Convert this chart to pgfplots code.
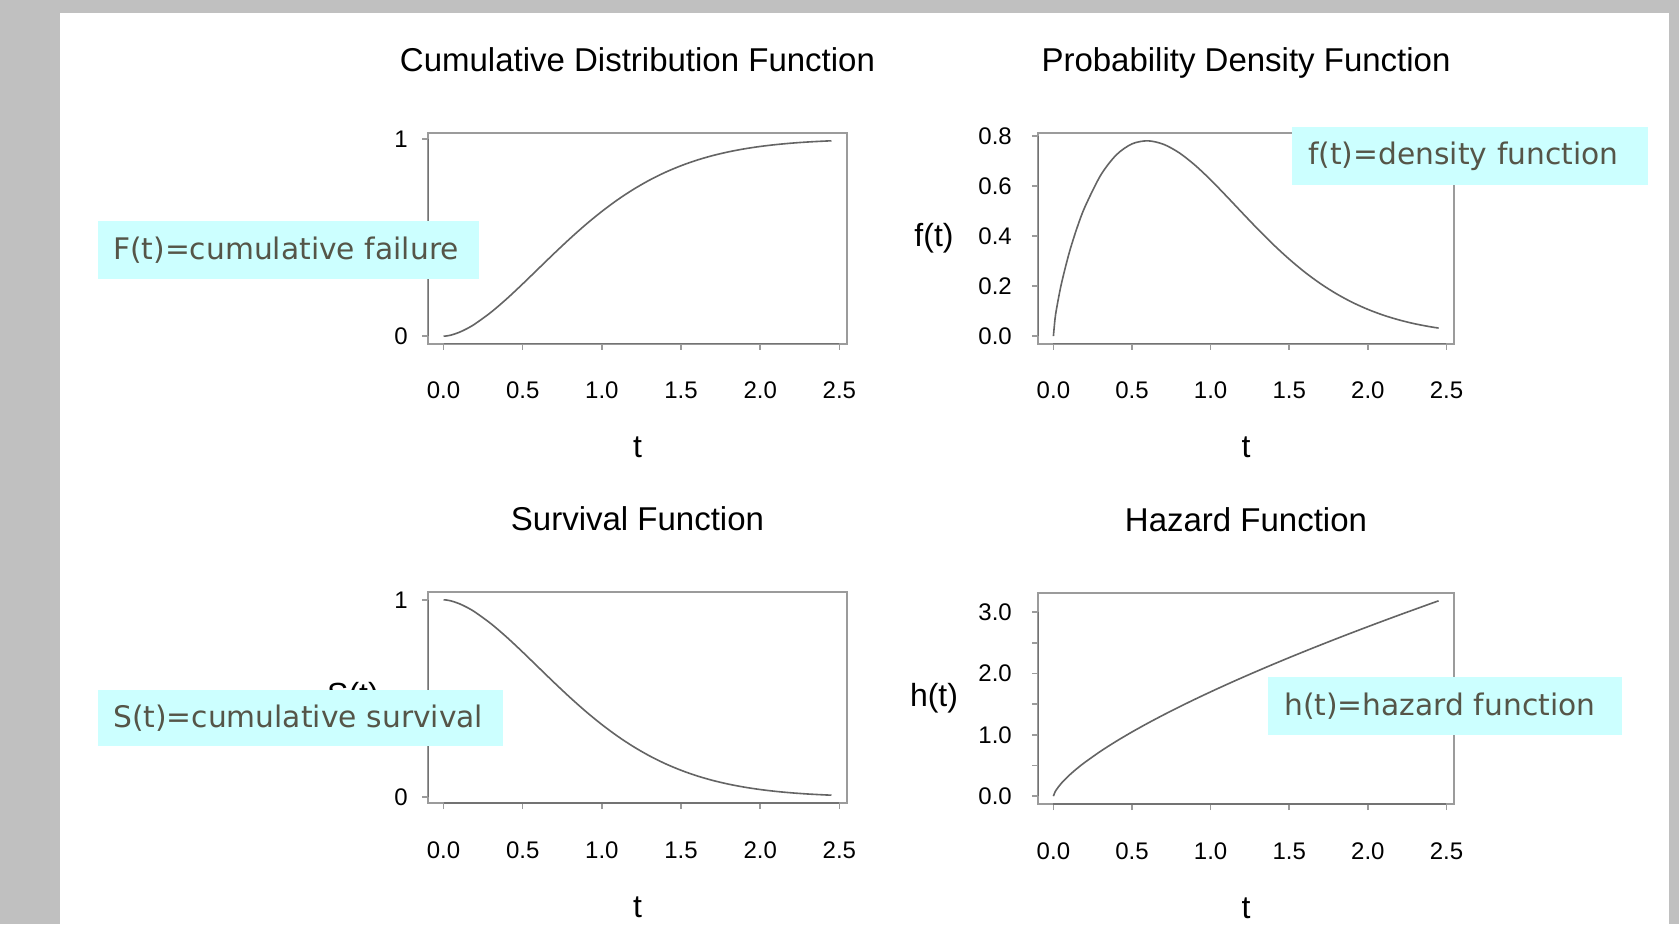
\documentclass[border=0pt]{standalone}
\usepackage{pgfplots}
\pgfplotsset{compat=1.18}
\usepackage{pgfplotstable}
\usepackage{fontspec}
\setmainfont{Liberation Sans}
\newfontfamily\annotfont{DejaVu Sans}

\definecolor{pagegrey}{RGB}{192,192,192}
\definecolor{boxgrey}{RGB}{155,155,155}
\definecolor{axisgrey}{RGB}{115,115,115}
\definecolor{curvegrey}{RGB}{100,100,100}
\definecolor{notefill}{RGB}{204,255,255}
\definecolor{notetext}{RGB}{85,85,72}

% t, F(t), f(t), S(t), h(t)
\pgfplotstableread{
t     F      f      S      h
0     0      0      1      0
0.01  0.0004 0.0677 0.9996 0.0677
0.02  0.0013 0.1098 0.9987 0.1099
0.05  0.0061 0.2075 0.9939 0.2088
0.1   0.0198 0.3325 0.9802 0.3392
0.15  0.0390 0.4329 0.9610 0.4505
0.2   0.0628 0.5164 0.9372 0.5510
0.3   0.1212 0.6432 0.8788 0.7319
0.4   0.1899 0.7252 0.8101 0.8952
0.5   0.2649 0.7693 0.7351 1.0465
0.6   0.3427 0.7815 0.6573 1.1890
0.7   0.4203 0.7677 0.5797 1.3243
0.8   0.4955 0.7336 0.5045 1.4542
0.9   0.5666 0.6844 0.4334 1.5791
1.0   0.6321 0.6254 0.3679 1.7000
1.1   0.6915 0.5606 0.3085 1.8173
1.2   0.7442 0.4941 0.2558 1.9314
1.3   0.7903 0.4284 0.2097 2.0427
1.4   0.8300 0.3658 0.1700 2.1515
1.5   0.8636 0.3080 0.1364 2.2581
1.6   0.8918 0.2556 0.1082 2.3623
1.7   0.9150 0.2095 0.0850 2.4647
1.8   0.9339 0.1696 0.0661 2.5655
1.9   0.9491 0.1356 0.0509 2.6644
2.0   0.9612 0.1072 0.0388 2.7617
2.1   0.9707 0.0837 0.0293 2.8577
2.2   0.9781 0.0647 0.0219 2.9524
2.3   0.9838 0.0493 0.0162 3.0454
2.4   0.9881 0.0373 0.0119 3.1379
2.45  0.9898 0.0325 0.0102 3.1834
}\weib

\pgfplotsset{
  rpanel/.style={
    scale only axis, width=419pt, height=211pt, anchor=south west,
    xmin=-0.098, xmax=2.548,
    axis line style={boxgrey, line width=1.5pt},
    tick style={boxgrey, line width=1.5pt},
    major tick length=6pt, tick align=outside, tick pos=left,
    xtick={0,0.5,1,1.5,2,2.5},
    xticklabels={0.0,0.5,1.0,1.5,2.0,2.5},
    ticklabel style={font=\fontsize{24}{28}\selectfont, inner sep=0pt},
    xticklabel style={anchor=base, yshift=-49pt},
    yticklabel style={anchor=east, xshift=-20pt},
    every axis title/.style={at={(rel axis cs:0.5,1)}, anchor=base,
      yshift=61pt, font=\fontsize{33}{40}\selectfont},
    every axis x label/.style={at={(rel axis cs:0.5,0)}, anchor=base,
      yshift=-114pt, font=\fontsize{32}{38}\selectfont},
    every axis y label/.style={at={(rel axis cs:0,0.5)}, anchor=center,
      font=\fontsize{32}{38}\selectfont},
    xlabel={t},
  },
  rcurve/.style={curvegrey, line width=1.6pt, smooth, no marks},
}
\tikzset{
  note/.style={fill=notefill, anchor=north west, inner ysep=0pt, align=left,
    text=notetext, font=\annotfont\fontsize{29.7}{34}\selectfont},
}

\begin{document}
\begin{tikzpicture}
\path[use as bounding box] (0,0) rectangle (1679pt,924pt);
\fill[pagegrey] (0,0) rectangle (1679pt,924pt);
\fill[white] (60pt,0) rectangle (1669pt,911pt);

% top left
\begin{axis}[rpanel, at={(428pt,580pt)},
  title={Cumulative Distribution Function},
  ymin=-0.0396, ymax=1.0294, ytick={0,1}, yticklabels={0,1},
  yticklabel style={xshift=6pt},
  ylabel={F(t)}, ylabel style={xshift=-75pt}]
\addplot[rcurve] table[x=t, y=F] {\weib};
\draw[axisgrey, line width=1.2pt] ({axis cs:0,0}|-{rel axis cs:0,0}) -- ({axis cs:2.5,0}|-{rel axis cs:0,0});
\draw[axisgrey, line width=1.2pt] ({rel axis cs:0,0}|-{axis cs:0,0}) -- ({rel axis cs:0,0}|-{axis cs:0,1});
\end{axis}

% top right
\begin{axis}[rpanel, at={(1038pt,580pt)}, width=416pt,
  title={Probability Density Function},
  ymin=-0.0313, ymax=0.8128, ytick={0,0.2,0.4,0.6,0.8},
  yticklabels={0.0,0.2,0.4,0.6,0.8},
  ylabel={f(t)}, ylabel style={xshift=-104pt}]
\addplot[rcurve] table[x=t, y=f] {\weib};
\draw[axisgrey, line width=1.2pt] ({axis cs:0,0}|-{rel axis cs:0,0}) -- ({axis cs:2.5,0}|-{rel axis cs:0,0});
\draw[axisgrey, line width=1.2pt] ({rel axis cs:0,0}|-{axis cs:0,0}) -- ({rel axis cs:0,0}|-{axis cs:0,0.8});
\end{axis}

% bottom left
\begin{axis}[rpanel, at={(428pt,121pt)},
  title={Survival Function},
  ymin=-0.0294, ymax=1.0396, ytick={0,1}, yticklabels={0,1},
  yticklabel style={xshift=6pt},
  ylabel={S(t)}, ylabel style={xshift=-75pt}]
\addplot[rcurve] table[x=t, y=S] {\weib};
\draw[axisgrey, line width=1.2pt] ({axis cs:0,0}|-{rel axis cs:0,0}) -- ({axis cs:2.5,0}|-{rel axis cs:0,0});
\draw[axisgrey, line width=1.2pt] ({rel axis cs:0,0}|-{axis cs:0,0}) -- ({rel axis cs:0,0}|-{axis cs:0,1});
\end{axis}

% bottom right
\begin{axis}[rpanel, at={(1038pt,120pt)}, width=416pt,
  title={Hazard Function},
  ymin=-0.1273, ymax=3.3107, ytick={0,0.5,1,1.5,2,2.5,3},
  yticklabels={0.0,,1.0,,2.0,,3.0},
  ylabel={h(t)}, ylabel style={xshift=-104pt}]
\addplot[rcurve] table[x=t, y=h] {\weib};
\draw[axisgrey, line width=1.2pt] ({axis cs:0,0}|-{rel axis cs:0,0}) -- ({axis cs:2.5,0}|-{rel axis cs:0,0});
\draw[axisgrey, line width=1.2pt] ({rel axis cs:0,0}|-{axis cs:0,0}) -- ({rel axis cs:0,0}|-{axis cs:0,3});
\end{axis}

% call-out boxes
\node[note, inner xsep=15pt, text width=351pt, minimum height=58pt] at (98pt,703pt) {F(t)=cumulative failure};
\node[note, inner xsep=16pt, text width=324pt, minimum height=58pt] at (1292pt,797pt) {f(t)=density function};
\node[note, inner xsep=15pt, text width=375pt, minimum height=56pt] at (98pt,234pt) {S(t)=cumulative survival};
\node[note, inner xsep=16pt, text width=322pt, minimum height=58pt] at (1268pt,247pt) {h(t)=hazard function};
\end{tikzpicture}
\end{document}
